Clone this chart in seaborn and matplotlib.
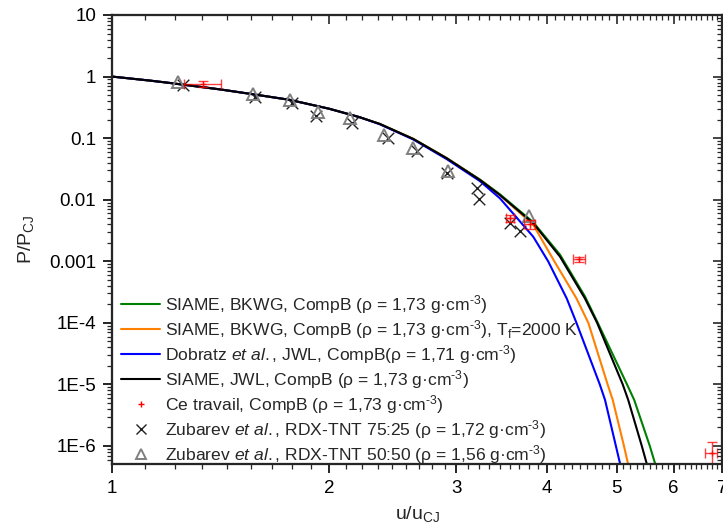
import matplotlib
matplotlib.use("Agg")
import matplotlib.pyplot as plt
import seaborn as sns
from matplotlib.lines import Line2D
from matplotlib.ticker import FixedLocator, FixedFormatter, NullFormatter

# Courbes P/PCJ en fonction de u/uCJ
green_u = [1.0, 1.129, 1.2, 1.41, 1.57, 1.76, 2.0, 2.2, 2.35, 2.615, 2.91, 3.235, 3.448, 3.834, 4.175, 4.52, 4.71, 5.17, 5.29, 5.56, 5.66]
green_p = [1.0, 0.86, 0.79, 0.62, 0.515, 0.42, 0.30, 0.22, 0.17, 0.097, 0.0471, 0.0212, 0.0122, 0.0043, 0.00128, 2.7e-4, 1e-4, 1e-5, 5.6e-6, 1e-6, 5e-7]

orange_u = [1.0, 1.129, 1.2, 1.41, 1.57, 1.76, 2.0, 2.2, 2.35, 2.615, 2.91, 3.235, 3.448, 3.834, 4.10, 4.40, 4.57, 4.86, 4.94, 5.12, 5.19]
orange_p = [1.0, 0.86, 0.79, 0.62, 0.515, 0.42, 0.30, 0.22, 0.17, 0.097, 0.0471, 0.0209, 0.0118, 0.0039, 0.001, 2.5e-4, 1e-4, 1e-5, 5.6e-6, 1e-6, 5e-7]

blue_u = [1.0, 1.129, 1.2, 1.41, 1.57, 1.76, 2.0, 2.2, 2.35, 2.615, 2.91, 3.235, 3.448, 3.834, 4.02, 4.265, 4.40, 4.74, 4.82, 4.99, 5.06]
blue_p = [1.0, 0.86, 0.79, 0.62, 0.515, 0.42, 0.30, 0.22, 0.168, 0.095, 0.0455, 0.020, 0.0105, 0.0025, 0.001, 2.5e-4, 1e-4, 1e-5, 5.6e-6, 1e-6, 5e-7]

black_u = [1.0, 1.129, 1.2, 1.41, 1.57, 1.76, 2.0, 2.2, 2.35, 2.615, 2.91, 3.235, 3.448, 3.834, 4.175, 4.52, 4.70, 5.10, 5.19, 5.42, 5.51]
black_p = [1.0, 0.86, 0.79, 0.62, 0.515, 0.42, 0.30, 0.22, 0.17, 0.097, 0.0471, 0.0209, 0.0119, 0.00414, 0.00119, 2.5e-4, 1e-4, 1e-5, 5.6e-6, 1e-6, 5e-7]

# Ce travail (avec barres d'erreur)
ce_u = [1.338, 3.56, 3.79, 4.43, 6.77]
ce_p = [0.758, 0.0050, 0.0040, 0.00108, 7.6e-7]
ce_uerr = [0.078, 0.05, 0.07, 0.085, 0.13]
ce_perr = [0.08, 0.0007, 0.0006, 0.0001, 4.0e-7]

# Zubarev et al., RDX-TNT 75:25
zx_u = [1.255, 1.578, 1.774, 1.92, 2.148, 2.414, 2.648, 2.909, 3.20, 3.225, 3.56, 3.67]
zx_p = [0.73, 0.471, 0.369, 0.229, 0.178, 0.0995, 0.0626, 0.027, 0.0153, 0.0103, 0.00414, 0.00314]

# Zubarev et al., RDX-TNT 50:50
zt_u = [1.235, 1.57, 1.764, 1.93, 2.14, 2.381, 2.615, 2.924, 3.78]
zt_p = [0.826, 0.52, 0.417, 0.263, 0.21, 0.112, 0.0685, 0.0296, 0.0054]

x_ticks = [1, 2, 3, 4, 5, 6, 7]
x_labels = ["1", "2", "3", "4", "5", "6", "7"]
y_ticks = [1e-6, 1e-5, 1e-4, 1e-3, 1e-2, 1e-1, 1, 10]
y_labels = ["1E-6", "1E-5", "1E-4", "0.001", "0.01", "0.1", "1", "10"]

labels = [
    r"SIAME, BKWG, CompB (ρ = 1,73 g·cm$^{\text{-3}}$)",
    r"SIAME, BKWG, CompB (ρ = 1,73 g·cm$^{\text{-3}}$), T$_\mathrm{f}$=2000 K",
    r"Dobratz $\mathit{et\ al.}$, JWL, CompB(ρ = 1,71 g·cm$^{\text{-3}}$)",
    r"SIAME, JWL, CompB (ρ = 1,73 g·cm$^{\text{-3}}$)",
    r"Ce travail, CompB (ρ = 1,73 g·cm$^{\text{-3}}$)",
    r"Zubarev $\mathit{et\ al.}$, RDX-TNT 75:25 (ρ = 1,72 g·cm$^{\text{-3}}$)",
    r"Zubarev $\mathit{et\ al.}$, RDX-TNT 50:50 (ρ = 1,56 g·cm$^{\text{-3}}$)",
]

sns.set_theme(style="ticks")
plt.rcParams['font.family'] = ['Liberation Sans', 'DejaVu Sans']
plt.rcParams['mathtext.fontset'] = 'custom'
plt.rcParams['mathtext.rm'] = 'Liberation Sans'
plt.rcParams['mathtext.it'] = 'Liberation Sans:italic'
plt.rcParams['mathtext.bf'] = 'Liberation Sans:bold'

fig = plt.figure(figsize=(7.23, 5.27), dpi=100)
ax = fig.add_axes([112 / 723, 1 - 464 / 527, 610 / 723, 449 / 527])

colors = ['#008000', '#FF8000', '#0000FF', '#000000']
curves = [(green_u, green_p), (orange_u, orange_p), (blue_u, blue_p), (black_u, black_p)]
for (u, p), c in zip(curves, colors):
    sns.lineplot(x=u, y=p, color=c, lw=1.5, sort=False, estimator=None, ax=ax)

ax.errorbar(ce_u, ce_p, xerr=ce_uerr, yerr=ce_perr, fmt='+', color='red', ms=5,
            elinewidth=1, capsize=3.5, capthick=1, alpha=0.75, zorder=3)
ax.plot(zt_u, zt_p, ls='none', marker='^', ms=8, mfc='none', mec='#808080', mew=1.4)
sns.scatterplot(x=zx_u, y=zx_p, marker='x', s=70, color='#202020', linewidth=1, ax=ax)

ax.set_xscale('log')
ax.set_yscale('log')
ax.set_xlim(1, 7)
ax.set_ylim(5.1e-7, 10)

x_minor = [a + k / 9 for a in range(1, 7) for k in range(1, 9)]
y_minor = [m * 10.0 ** e for e in range(-7, 1) for m in range(2, 10)]


def set_ticks(axis, major, minor):
    axis.set_major_locator(FixedLocator(major))
    axis.set_minor_locator(FixedLocator(minor))
    axis.set_minor_formatter(NullFormatter())


set_ticks(ax.xaxis, x_ticks, x_minor)
set_ticks(ax.yaxis, y_ticks, y_minor)
ax.xaxis.set_major_formatter(FixedFormatter(x_labels))
ax.yaxis.set_major_formatter(FixedFormatter(y_labels))

ax.tick_params(which='major', direction='out', length=6.5, width=1.2, labelsize=13.5, pad=5, colors='black')
ax.tick_params(which='minor', direction='out', length=3.3, width=0.9)
for s in ax.spines.values():
    s.set_linewidth(1.5)
    s.set_color('black')

# graduations internes en haut et à droite
axt = ax.twiny()
axt.set_xscale('log')
axt.set_xlim(ax.get_xlim())
set_ticks(axt.xaxis, x_ticks, x_minor)
axt.xaxis.set_major_formatter(NullFormatter())
axr = ax.twinx()
axr.set_yscale('log')
axr.set_ylim(ax.get_ylim())
set_ticks(axr.yaxis, y_ticks, y_minor)
axr.yaxis.set_major_formatter(NullFormatter())
for a in (axt, axr):
    a.tick_params(which='major', direction='in', length=6.5, width=1.2)
    a.tick_params(which='minor', direction='in', length=3.3, width=0.9)
    for s in a.spines.values():
        s.set_linewidth(1.5)

ax.set_xlabel(r"u/u$_\mathrm{CJ}$", fontsize=14, labelpad=5)
ax.set_ylabel(r"P/P$_\mathrm{CJ}$", fontsize=14, labelpad=9)

handles = [Line2D([], [], color=c, lw=1.5) for c in colors]
handles.append(Line2D([], [], ls='none', marker='+', color='red', ms=5))
handles.append(Line2D([], [], ls='none', marker='x', color='#202020', ms=7))
handles.append(Line2D([], [], ls='none', marker='^', mfc='none', mec='#808080', mew=1.4, ms=7))
ax.legend(handles, labels, loc='lower left', bbox_to_anchor=(0.004, -0.019), frameon=False,
          fontsize=12.6, handlelength=2.2, handletextpad=0.3, labelspacing=0.12,
          borderaxespad=0.2, borderpad=0.2)

fig.savefig("out.png", dpi=100)
